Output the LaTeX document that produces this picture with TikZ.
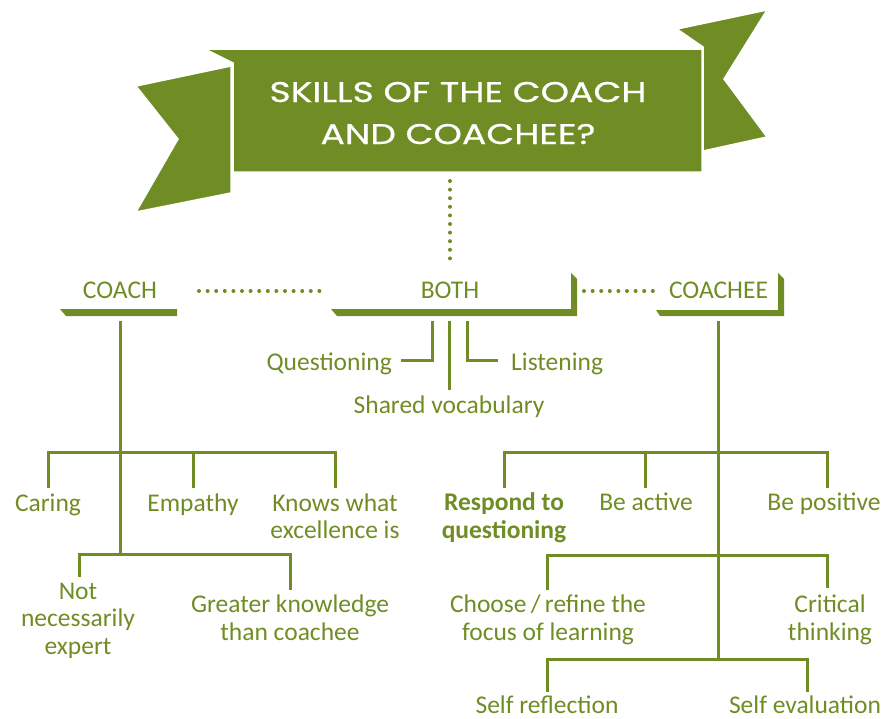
\documentclass[tikz,border=0pt]{standalone}
\usepackage{fontspec}
\setmainfont{Carlito}
\newfontfamily\titlefont[FakeStretch=1.27,FakeBold=0.6]{Poppins}
\definecolor{leaf}{RGB}{111,141,36}
\begin{document}
\begin{tikzpicture}[x=1pt,y=-1pt,
  lbl/.style={inner sep=0pt, anchor=base, text=leaf, align=center, font=\fontsize{25.5}{27.5}\selectfont},
  branch/.style={draw=leaf, line width=3pt, line join=miter},
  dots/.style={draw=leaf, line width=4pt, line cap=round, dash pattern=on 0pt off 8.6pt},
  flag/.style={fill=leaf, draw=white, line width=1.5pt, line join=miter},
  bar/.style={fill=leaf}]
\useasboundingbox (0,0) rectangle (885,718);

% banner
\fill[flag] (136,86) -- (231,66) -- (231,193) -- (136,212) -- (178,139) -- cycle;
\fill[flag] (677,29) -- (767,10) -- (724,79) -- (767,137) -- (703,151) -- (703,47) -- cycle;
\filldraw[flag] (205,49) -- (702,49) -- (702,172) -- (233,172) -- (233,63) -- cycle;
\node[font=\titlefont\fontsize{28.5}{42}\selectfont, text=white, align=center, anchor=base, inner sep=0pt] (title) at (458,144) {SKILLS OF THE COACH\\AND COACHEE?};

% headers
\node[lbl] (coach) at (120,298) {COACH};
\node[lbl] (both) at (450,298) {BOTH};
\node[lbl] (coachee) at (718.5,298) {COACHEE};
\fill[bar] (60,309) -- (177,309) -- (177,316) -- (66,316) -- cycle;
\fill[bar] (331,309) -- (571,309) -- (571,273) -- (577,279) -- (577,316) -- (337,316) -- cycle;
\fill[bar] (656,310) -- (778,310) -- (778,273) -- (784,279) -- (784,316) -- (660,316) -- cycle;

% dotted links
\coordinate (tDown) at (450,181);
\coordinate (bUp) at (450,263);
\coordinate (cRight) at (199,291);
\coordinate (bLeft) at (326,291);
\coordinate (bRight) at (584,291);
\coordinate (eLeft) at (653,291);
\draw[dots] (tDown) -- (bUp);
\draw[dots] (cRight) -- (bLeft);
\draw[dots] (bRight) -- (eLeft);

% BOTH children
\node[lbl, anchor=base east] (quest) at (392,370) {Questioning};
\node[lbl, anchor=base west] (listen) at (511,370) {Listening};
\node[lbl] (shared) at (449,413) {Shared vocabulary};
\coordinate (bq0) at (432,321); \coordinate (bq1) at (401,360);
\coordinate (bm0) at (449,321); \coordinate (bm1) at (449,390);
\coordinate (bl0) at (467,321); \coordinate (bl1) at (498,360);
\draw[branch] (bq0) |- (bq1);
\draw[branch] (bm0) -- (bm1);
\draw[branch] (bl0) |- (bl1);

% COACH tree
\coordinate (cT) at (120,321);
\coordinate (cJ1) at (120,452);
\coordinate (cJ2) at (120,554);
\coordinate (caringTop) at (48,488);
\coordinate (empTop) at (193,488);
\coordinate (knowsTop) at (335,488);
\coordinate (notTop) at (79,577);
\coordinate (greatTop) at (290,590);
\draw[branch] (cT) -- (cJ2);
\draw[branch] (caringTop) |- (cJ1) -| (knowsTop);
\draw[branch] (empTop) -- (empTop |- cJ1);
\draw[branch] (notTop) |- (cJ2) -| (greatTop);
\node[lbl] (caring) at (48,511) {Caring};
\node[lbl] (empathy) at (193,511) {Empathy};
\node[lbl] (knows) at (335,538.5) {Knows what\\excellence is};
\node[lbl] (notexp) at (78,654) {Not\\necessarily\\expert};
\node[lbl] (greater) at (290,640) {Greater knowledge\\than coachee};

% COACHEE tree
\coordinate (eT) at (718,321);
\coordinate (eJ1) at (718,452);
\coordinate (eJ2) at (718,555);
\coordinate (eJ3) at (718,659);
\coordinate (respTop) at (504,488);
\coordinate (actTop) at (645,488);
\coordinate (posTop) at (827,488);
\coordinate (chooseTop) at (547,590);
\coordinate (critTop) at (827,588);
\coordinate (reflTop) at (547,692);
\coordinate (evalTop) at (807,692);
\draw[branch] (eT) -- (eJ3);
\draw[branch] (respTop) |- (eJ1) -| (posTop);
\draw[branch] (actTop) -- (actTop |- eJ1);
\draw[branch] (chooseTop) |- (eJ2) -| (critTop);
\draw[branch] (reflTop) |- (eJ3) -| (evalTop);
\node[lbl, font=\bfseries\fontsize{25.5}{27.5}\selectfont] (respond) at (504,538) {Respond to\\questioning};
\node[lbl] (active) at (646,510) {Be active};
\node[lbl] (positive) at (824,510) {Be positive};
\node[lbl] (choose) at (548,640) {Choose\,/\,refine the\\focus of learning};
\node[lbl] (critical) at (830,640) {Critical\\thinking};
\node[lbl, text depth=0pt] (refl) at (547,713.5) {Self reflection};
\node[lbl, text depth=0pt] (eval) at (805,713.5) {Self evaluation};
\end{tikzpicture}
\end{document}
